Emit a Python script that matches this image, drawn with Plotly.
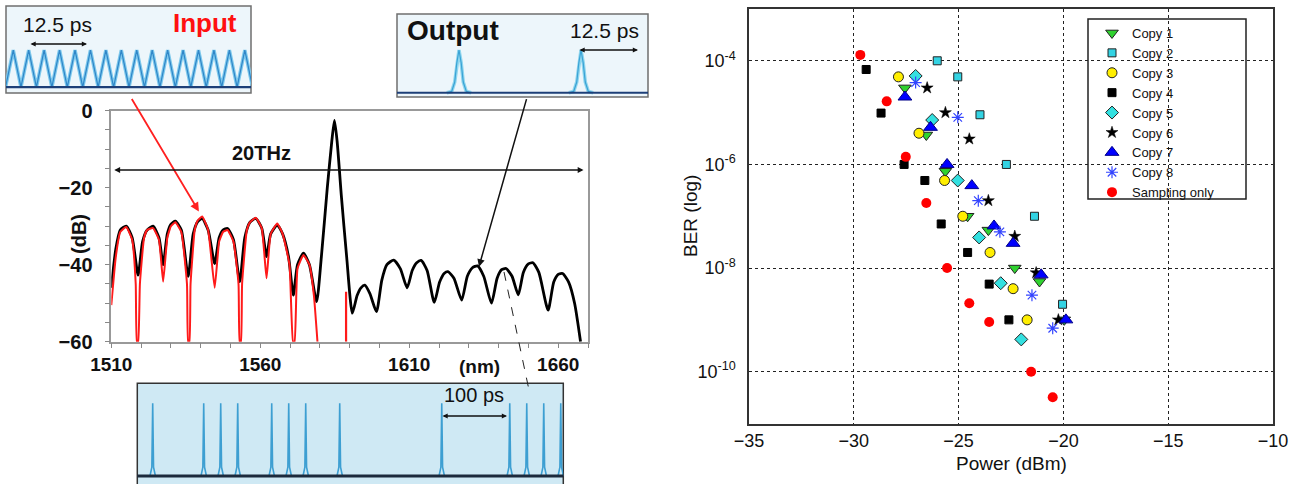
import plotly.graph_objects as go

# ---------------- Left panel: optical spectrum ----------------
black_wl = [1510, 1511.5, 1513, 1515, 1517,
            1519, 1520.5, 1522, 1524, 1526,
            1527.4, 1528.8, 1530, 1531.5, 1533.5,
            1535.8, 1537.5, 1539, 1540.5, 1542.5,
            1544.7, 1546.2, 1547.5, 1549, 1551,
            1553.1, 1554.8, 1556.5, 1558.5, 1560.5,
            1562.1, 1563.5, 1565.7, 1567.5, 1569.5,
            1571.1, 1572.5, 1574.5, 1576.5, 1578.9,
            1580.5, 1582.5, 1584, 1584.9, 1585.8,
            1587.2, 1589, 1590.9, 1592.5, 1593.8,
            1595.1, 1596.8, 1599, 1600.8, 1602.5,
            1604.8, 1607, 1609.3, 1611, 1612.5,
            1614, 1616, 1618.4, 1620.2, 1621.8,
            1623, 1625, 1627.6, 1629.5, 1631.2,
            1632.9, 1635, 1637.6, 1639.5, 1641,
            1642.5, 1644.5, 1646.6, 1648.3, 1650,
            1651.5, 1653.5, 1656.6, 1658.5, 1660,
            1661.5, 1663.5, 1665.5, 1667.5]
black_db = [-46, -36, -31, -30, -33,
            -42.7, -34, -31, -30, -33,
            -40, -32, -29.5, -28.7, -31,
            -43, -32, -28.8, -28, -31,
            -39.7, -33, -31, -30.6, -33.5,
            -44.4, -33, -29, -28, -30.5,
            -37.9, -32, -29.7, -32, -38,
            -47.9, -40, -37, -40, -49.6,
            -38, -20, -8, -2.5, -8,
            -22, -38, -52.6, -48, -46,
            -45.3, -47.5, -52.2, -44, -40,
            -38.8, -41, -46, -41.5, -39.5,
            -38.9, -41.5, -49.8, -44.5, -42.2,
            -41.8, -43.5, -49.2, -43, -40.8,
            -40.3, -43, -50, -43.5, -41.3,
            -41, -43, -47.8, -42, -39.8,
            -39.5, -42, -51.8, -44.5, -42.5,
            -42.3, -44.5, -50, -60]

red_wl = [1510, 1511.5, 1513, 1515, 1517,
          1518.2, 1518.6, 1519, 1519.6, 1521,
          1522, 1524, 1526, 1527.4, 1528.8,
          1530, 1531.5, 1533.5, 1535.4, 1535.8,
          1536.2, 1536.6, 1538, 1539, 1540.5,
          1542.5, 1544.7, 1546.2, 1547.5, 1549,
          1551, 1552.7, 1553.1, 1553.5, 1553.9,
          1555.5, 1556.5, 1558.5, 1560.5, 1562.1,
          1563.5, 1565.7, 1567.5, 1569.8, 1571,
          1571.5, 1572.5, 1574.5, 1576.5, 1578,
          1579.2]
red_db = [-50.5, -38, -31.5, -30.2, -33.5,
          -45, -60, -60, -45, -33,
          -31, -30.5, -33.5, -44.4, -33,
          -30, -29, -31.5, -45, -60,
          -60, -45, -31, -28.5, -27.5,
          -31, -46, -34, -31.5, -31,
          -34, -45, -60, -60, -45,
          -31, -29, -27.8, -30.5, -43.5,
          -32, -29.3, -32, -40, -60,
          -60, -41, -37.5, -40, -48,
          -60]
red_spike_wl = [1588.8, 1588.8]
red_spike_db = [-47, -60]

spec_xticks = [1510, 1560, 1610, 1660]
spec_yticks = [0, -20, -40, -60]

# ---------------- Right panel: BER vs power ----------------
copy1_p = [-27.56, -26.54, -25.63, -24.57, -23.58, -22.32, -21.14, -19.96]
copy1_ber = [3e-5, 3.7e-6, 7.4e-7, 1e-7, 5.4e-8, 1e-8, 5.5e-9, 1e-9]
copy2_p = [-26.02, -25.04, -23.98, -22.72, -21.38, -20.04]
copy2_ber = [1e-4, 4.9e-5, 9.1e-6, 1.0e-6, 1e-7, 2.0e-9]
copy3_p = [-27.87, -26.89, -25.67, -24.80, -23.50, -22.40, -21.73]
copy3_ber = [4.9e-5, 4.0e-6, 4.9e-7, 1e-7, 2.0e-8, 4.0e-9, 1e-9]
copy4_p = [-29.41, -28.70, -27.60, -26.61, -25.83, -24.57, -23.54, -22.60]
copy4_ber = [6.8e-5, 9.8e-6, 1e-6, 4.9e-7, 7.1e-8, 2.0e-8, 4.9e-9, 1e-9]
copy5_p = [-27.05, -26.26, -25.04, -24.02, -22.99, -22.01]
copy5_ber = [5.1e-5, 7.2e-6, 4.9e-7, 3.9e-8, 5.1e-9, 4.2e-10]
copy6_p = [-26.50, -25.63, -24.49, -23.58, -22.32, -21.30, -20.24]
copy6_ber = [3e-5, 1.0e-5, 3.1e-6, 2.0e-7, 4.1e-8, 8.1e-9, 1.0e-9]
copy7_p = [-27.56, -26.34, -25.55, -24.37, -23.31, -22.40, -21.06, -19.88]
copy7_ber = [2e-5, 5.2e-6, 1e-6, 3.9e-7, 6.5e-8, 3e-8, 7.4e-9, 1e-9]
copy8_p = [-27.05, -25.04, -24.06, -23.03, -21.50, -20.51]
copy8_ber = [3.8e-5, 8.1e-6, 2e-7, 5e-8, 3e-9, 6.9e-10]
samp_p = [-29.69, -28.43, -27.52, -26.54, -25.55, -24.49, -23.54, -21.54, -20.51]
samp_ber = [1.3e-4, 1.65e-5, 1.4e-6, 1.8e-7, 1.0e-8, 2.1e-9, 9.1e-10, 1.0e-10, 3.2e-11]

power_ticks = [-35, -30, -25, -20, -15, -10]
ber_tickvals = [1e-10, 1e-8, 1e-6, 1e-4]
ber_ticktext = ["10<sup>-10</sup>", "10<sup>-8</sup>", "10<sup>-6</sup>", "10<sup>-4</sup>"]

# ---------------- Insets (waveforms) ----------------
input_t = [-0.5, 0, 0.5, 1, 1.5, 2, 2.5, 3, 3.5, 4, 4.5, 5, 5.5, 6, 6.5, 7, 7.5,
           8, 8.5, 9, 9.5, 10, 10.5, 11, 11.5, 12, 12.5, 13, 13.5, 14, 14.5, 15, 15.5]
input_v = [0, 1, 0, 1, 0, 1, 0, 1, 0, 1, 0, 1, 0, 1, 0, 1, 0,
           1, 0, 1, 0, 1, 0, 1, 0, 1, 0, 1, 0, 1, 0, 1, 0]
output_peaks = [0, 1]
output_amp = [1, 1]
tdm_slots = [0, 3, 4, 5, 7, 8, 9, 11, 17, 21, 22, 23, 24]
tdm_amp = [1, 1, 1, 1, 1, 1, 1, 1, 1, 1, 1, 1, 1]

# pulse drawing templates (style only)
OUT_OFF = [-0.1, -0.06, -0.035, -0.018, 0, 0.018, 0.035, 0.06, 0.1]
OUT_SHP = [0, 0.03, 0.25, 0.7, 1, 0.7, 0.25, 0.03, 0]
TDM_OFF = [-0.16, -0.05, 0, 0.05, 0.16]
TDM_SHP = [0, 0.12, 1, 0.12, 0]

W, H = 1293, 484
def px(x): return x / W
def py(y): return 1 - y / H

FONT = "Liberation Sans, Arial, sans-serif"

fig = go.Figure()

# spectrum
fig.add_trace(go.Scatter(x=black_wl, y=black_db, mode="lines",
                         line=dict(color="black", width=2.8, shape="spline", smoothing=0.6),
                         showlegend=False, hoverinfo="skip", xaxis="x", yaxis="y"))
fig.add_trace(go.Scatter(x=red_wl, y=red_db, mode="lines",
                         line=dict(color="#ff1a1a", width=2, shape="spline", smoothing=0.4),
                         showlegend=False, hoverinfo="skip", xaxis="x", yaxis="y"))
fig.add_trace(go.Scatter(x=red_spike_wl, y=red_spike_db, mode="lines",
                         line=dict(color="#ff1a1a", width=2.2), showlegend=False,
                         hoverinfo="skip", xaxis="x", yaxis="y"))

# BER series
series = [
    ("Copy 1", copy1_p, copy1_ber, dict(symbol="triangle-down", size=11, color="#2fd22f", line=dict(color="#222", width=1))),
    ("Copy 2", copy2_p, copy2_ber, dict(symbol="square", size=8, color="#33d3e3", line=dict(color="#222", width=1))),
    ("Copy 3", copy3_p, copy3_ber, dict(symbol="circle", size=10, color="#ffee00", line=dict(color="#222", width=1))),
    ("Copy 4", copy4_p, copy4_ber, dict(symbol="square", size=8, color="black", line=dict(color="black", width=1))),
    ("Copy 5", copy5_p, copy5_ber, dict(symbol="diamond", size=10, color="#33e0e0", line=dict(color="#222", width=1))),
    ("Copy 6", copy6_p, copy6_ber, dict(symbol="star", size=9, color="black", line=dict(color="black", width=0.5))),
    ("Copy 7", copy7_p, copy7_ber, dict(symbol="triangle-up", size=12, color="#0000ff", line=dict(color="#000088", width=1))),
    ("Copy 8", copy8_p, copy8_ber, dict(symbol="asterisk-open", size=10, color="#3344ff", line=dict(color="#3344ff", width=1.2))),
    ("Sampling only", samp_p, samp_ber, dict(symbol="circle", size=10, color="#ff0000", line=dict(color="#ff0000", width=0))),
]
for name, p, b, m in series:
    fig.add_trace(go.Scatter(x=p, y=b, mode="markers", name=name, marker=m,
                             xaxis="x2", yaxis="y2"))

# input inset
fig.add_trace(go.Scatter(x=input_t, y=input_v, mode="lines", line=dict(color="#7cc8ec", width=3.5),
                         showlegend=False, hoverinfo="skip", xaxis="x3", yaxis="y3"))
fig.add_trace(go.Scatter(x=input_t, y=input_v, mode="lines", line=dict(color="#2f86c8", width=1.2),
                         showlegend=False, hoverinfo="skip", xaxis="x3", yaxis="y3"))

# output inset
ox, oy = [], []
for t, a in zip(output_peaks, output_amp):
    ox += [t + d for d in OUT_OFF] + [None]
    oy += [a * s for s in OUT_SHP] + [None]
fig.add_trace(go.Scatter(x=ox, y=oy, mode="lines", line=dict(color="#8fd6ee", width=3.5),
                         showlegend=False, hoverinfo="skip", xaxis="x4", yaxis="y4"))
fig.add_trace(go.Scatter(x=ox, y=oy, mode="lines", line=dict(color="#3aa3d6", width=1.2),
                         showlegend=False, hoverinfo="skip", xaxis="x4", yaxis="y4"))

# TDM inset
tx, ty = [], []
for t, a in zip(tdm_slots, tdm_amp):
    tx += [t + d for d in TDM_OFF] + [None]
    ty += [a * s for s in TDM_SHP] + [None]
fig.add_trace(go.Scatter(x=tx, y=ty, mode="lines", line=dict(color="#3d9fd2", width=1.6),
                         showlegend=False, hoverinfo="skip", xaxis="x5", yaxis="y5"))

hidden = dict(visible=False, showgrid=False, zeroline=False, fixedrange=True, automargin=False)

fig.update_layout(
    template=None,
    width=W, height=H, margin=dict(l=0, r=0, t=0, b=0, pad=0, autoexpand=False),
    paper_bgcolor="white", plot_bgcolor="rgba(0,0,0,0)",
    font=dict(family=FONT, color="#111"),
    xaxis=dict(domain=[px(111.3), px(588)], range=[1510, 1670], anchor="y", automargin=False,
               tickmode="array", tickvals=spec_xticks, ticks="outside", ticklen=5,
               tickcolor="#888", minor=dict(tick0=1510, dtick=10, ticks="outside", ticklen=5, tickcolor="#888"),
               showline=True, linecolor="#999", linewidth=1.5, mirror=True,
               showgrid=False, zeroline=False, ticklabelstandoff=0,
               tickfont=dict(family=FONT, size=19, color="#111", weight="bold")),
    yaxis=dict(domain=[py(341.7), py(110.7)], range=[-60, 0], anchor="x", automargin=False,
               tickmode="array", tickvals=spec_yticks, ticks="outside", ticklen=5,
               tickcolor="#888", minor=dict(tick0=0, dtick=5, ticks="outside", ticklen=5, tickcolor="#888"),
               showline=True, linecolor="#999", linewidth=1.5, mirror=True,
               showgrid=False, zeroline=False, ticklabelstandoff=8,
               tickfont=dict(family=FONT, size=20, color="#111", weight="bold")),
    xaxis2=dict(domain=[px(749), px(1273)], range=[-35, -10], anchor="y2", automargin=False,
                tickmode="array", tickvals=power_ticks, ticks="",
                showline=True, linecolor="#333", linewidth=1.5, mirror=True,
                showgrid=True, gridcolor="#222", griddash="dot", gridwidth=1.3,
                zeroline=False, ticklabelstandoff=0,
                tickfont=dict(family=FONT, size=18, color="#111")),
    yaxis2=dict(domain=[py(423.5), py(9)], type="log", range=[-11, -3], anchor="x2", automargin=False,
                tickmode="array", tickvals=ber_tickvals, ticktext=ber_ticktext, ticks="",
                showline=True, linecolor="#333", linewidth=1.5, mirror=True,
                showgrid=True, gridcolor="#222", griddash="dot", gridwidth=1.3,
                zeroline=False, ticklabelstandoff=8,
                tickfont=dict(family=FONT, size=18, color="#111")),
    xaxis3=dict(domain=[px(6), px(251)], range=[-0.47, 15.4], anchor="y3", **hidden),
    yaxis3=dict(domain=[py(93), py(6)], range=[-0.16, 2.19], anchor="x3", **hidden),
    xaxis4=dict(domain=[px(397), px(648)], range=[-0.508, 1.549], anchor="y4", **hidden),
    yaxis4=dict(domain=[py(97), py(14)], range=[-0.1, 1.843], anchor="x4", **hidden),
    xaxis5=dict(domain=[px(137.3), px(563.3)], range=[-0.906, 24.15], anchor="y5", **hidden),
    yaxis5=dict(domain=[0, py(383.3)], range=[-0.11, 1.275], anchor="x5", **hidden),
    showlegend=True,
    legend=dict(x=px(1092), y=py(18), xanchor="left", yanchor="top",
                bgcolor="rgba(0,0,0,0)", borderwidth=0,
                font=dict(family=FONT, size=13, color="#111"), tracegroupgap=0),
)

shapes = [
    dict(type="rect", xref="paper", yref="paper", x0=px(6), x1=px(251), y0=py(93), y1=py(6),
         fillcolor="#edf6fb", line=dict(color="#6f6f6f", width=1.5), layer="below"),
    dict(type="rect", xref="paper", yref="paper", x0=px(397), x1=px(648), y0=py(97), y1=py(14),
         fillcolor="#edf6fb", line=dict(color="#6f6f6f", width=1.5), layer="below"),
    dict(type="rect", xref="paper", yref="paper", x0=px(137.3), x1=px(563.3), y0=py(486), y1=py(383.3),
         fillcolor="#cfe9f4", line=dict(color="#333", width=1.5), layer="below"),
    dict(type="line", xref="x3 domain", yref="y3", x0=0, x1=1, y0=0, y1=0,
         line=dict(color="#1d3f78", width=2.2)),
    dict(type="line", xref="x4 domain", yref="y4", x0=0, x1=1, y0=0, y1=0,
         line=dict(color="#1d3f78", width=2.2)),
    dict(type="line", xref="x5 domain", yref="y5", x0=0, x1=1, y0=0, y1=0,
         line=dict(color="#1c2a3c", width=2.8)),
    dict(type="line", xref="paper", yref="paper", x0=px(504), y0=py(272), x1=px(529), y1=py(390),
         line=dict(color="#222", width=1, dash="dash")),
    dict(type="rect", xref="paper", yref="paper", x0=px(1088), x1=px(1246), y0=py(199), y1=py(19),
         fillcolor="white", line=dict(color="#222", width=1.5), layer="below"),
]
fig.update_layout(shapes=shapes)

def txt(x, y, text, size, color="#111", angle=0):
    return dict(x=px(x), y=py(y), xref="paper", yref="paper", text=text, showarrow=False,
                xanchor="center", yanchor="middle", textangle=angle,
                font=dict(family=FONT, size=size, color=color))

def dbl_arrow(x_end, x_start, y):
    return dict(x=px(x_end), y=py(y), xref="paper", yref="paper", ax=x_start - x_end, ay=0,
                text="", showarrow=True, arrowhead=2, arrowside="end+start", arrowsize=0.8,
                arrowwidth=1.3, arrowcolor="#111")

ann = []
ann.append(dict(x=1539.4, y=-26.2, xref="x", yref="y", ax=-68, ay=-114, text="", showarrow=True,
                arrowhead=2, arrowsize=1, arrowwidth=1.8, arrowcolor="#ff2020"))
ann.append(dict(x=1633.4, y=-40.5, xref="x", yref="y", ax=48, ay=-169, text="", showarrow=True,
                arrowhead=2, arrowsize=1, arrowwidth=1.5, arrowcolor="#111"))
ann.append(dict(x=1668.5, y=-15.4, xref="x", yref="y", ax=1510.5, ay=-15.4, axref="x", ayref="y",
                text="", showarrow=True, arrowhead=2, arrowside="end+start", arrowsize=0.9,
                arrowwidth=1.3, arrowcolor="#111"))
ann.append(dict(x=1560.3, y=-11.1, xref="x", yref="y", text="<b>20THz</b>", showarrow=False,
                xanchor="center", yanchor="middle", font=dict(family=FONT, size=20, color="#111")))
ann.append(txt(79, 234, "<b>(dB)</b>", 20, angle=-90))
ann.append(txt(479, 366, "<b>(nm)</b>", 19))
ann.append(txt(57, 25, "12.5 ps", 21))
ann.append(txt(205, 23, "<b>Input</b>", 26, color="#ff1010"))
ann.append(dbl_arrow(87, 29, 44))
ann.append(txt(453, 31, "<b>Output</b>", 28))
ann.append(txt(604, 31, "12.5 ps", 21))
ann.append(dbl_arrow(638, 578, 50))
ann.append(txt(474, 395, "100 ps", 20))
ann.append(dbl_arrow(507, 441, 416))
ann.append(txt(690, 216, "BER (log)", 19, angle=-90))
ann.append(txt(1011, 463, "Power (dBm)", 19))
fig.update_layout(annotations=ann)

fig.write_html("out.html",
               config={"displayModeBar": False},
               post_script="document.body.style.margin='0px';document.body.style.overflow='hidden';")
